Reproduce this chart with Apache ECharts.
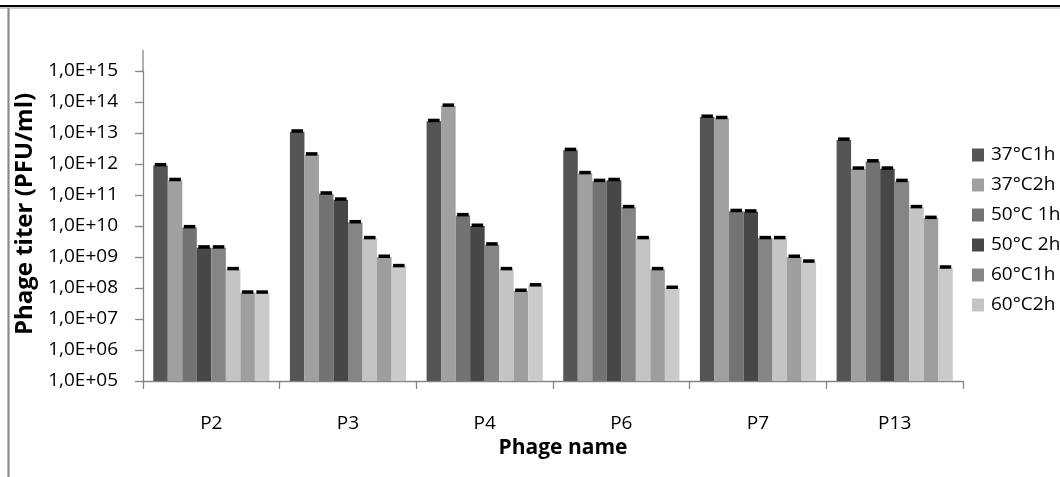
<!DOCTYPE html>
<html>
<head>
<meta charset="utf-8">
<script src="https://cdn.jsdelivr.net/npm/echarts@6/dist/echarts.min.js"></script>
<style>
html,body{margin:0;padding:0;background:#fff;}
#chart{width:1060px;height:477px;}
</style>
</head>
<body>
<div id="chart"></div>
<script>
const categories = ['P2', 'P3', 'P4', 'P6', 'P7', 'P13'];
const seriesNames = ['37°C1h', '37°C2h', '50°C 1h', '50°C 2h', '60°C1h', '60°C2h', '70°C1h', '70°C2h'];
const legendNames = ['37°C1h', '37°C2h', '50°C 1h', '50°C 2h', '60°C1h', '60°C2h'];
const s37c1h = [9e11, 1.1e13, 2.4e13, 2.8e12, 3.3e13, 6e12];
const s37c2h = [3e11, 2e12, 7.5e13, 5e11, 3e13, 7e11];
const s50c1h = [9e9, 1.1e11, 2.2e10, 2.8e11, 3e10, 1.2e12];
const s50c2h = [2e9, 7e10, 1e10, 3e11, 2.9e10, 7e11];
const s60c1h = [2e9, 1.3e10, 2.5e9, 4e10, 4e9, 2.8e11];
const s60c2h = [4e8, 4e9, 4e8, 4e9, 4e9, 4e10];
const s70c1h = [7e7, 1e9, 8e7, 4e8, 1e9, 1.8e10];
const s70c2h = [7e7, 5e8, 1.2e8, 1e8, 7e8, 4.5e8];
const yTickLabels = ['1,0E+05', '1,0E+06', '1,0E+07', '1,0E+08', '1,0E+09', '1,0E+10',
                     '1,0E+11', '1,0E+12', '1,0E+13', '1,0E+14', '1,0E+15'];

const allData = [s37c1h, s37c2h, s50c1h, s50c2h, s60c1h, s60c2h, s70c1h, s70c2h];
const colors = ['#555555', '#a0a0a0', '#737373', '#474747', '#858585', '#c4c4c4', '#9e9e9e', '#cacaca'];
const FONT = 'Open Sans';
const catGap = 0.15;
const nSeries = allData.length;

const chart = echarts.init(document.getElementById('chart'), null, {renderer: 'canvas'});

const series = [];
allData.forEach(function (d, i) {
  series.push({
    name: seriesNames[i],
    type: 'bar',
    data: d,
    barGap: '0%',
    barCategoryGap: (catGap * 100) + '%',
    itemStyle: {color: colors[i]},
    silent: true
  });
});
allData.forEach(function (d, i) {
  series.push({
    name: seriesNames[i] + ' err',
    type: 'custom',
    data: d.map(function (v, k) { return [k, v]; }),
    encode: {x: 0, y: 1},
    z: 5,
    silent: true,
    renderItem: function (params, api) {
      const k = api.value(0);
      const v = api.value(1);
      const p = api.coord([k, v]);
      const catW = Math.abs(api.coord([1, v])[0] - api.coord([0, v])[0]);
      const barW = catW * (1 - catGap) / nSeries;
      const cx = p[0] + (i - (nSeries - 1) / 2) * barW;
      const w = barW - 3;
      return {
        type: 'rect',
        shape: {x: cx - w / 2, y: p[1] - 2.5, width: w, height: 3.5},
        style: {fill: '#000000'}
      };
    }
  });
});

chart.setOption({
  animation: false,
  backgroundColor: '#ffffff',
  textStyle: {fontFamily: FONT},
  grid: {left: 143, right: 97, top: 71, bottom: 96, containLabel: false},
  legend: {
    data: legendNames,
    orient: 'vertical',
    left: 967,
    top: 140,
    icon: 'rect',
    itemWidth: 12,
    itemHeight: 13,
    itemGap: 10,
    textStyle: {fontFamily: FONT, fontSize: 19, color: '#000', lineHeight: 20, padding: [0, 0, 0, 2]}
  },
  xAxis: {
    type: 'category',
    data: categories,
    name: 'Phage name',
    nameLocation: 'middle',
    nameGap: 52,
    nameTextStyle: {fontFamily: FONT, fontSize: 21, fontWeight: 'bold', color: '#000', padding: [0, 0, 0, 20]},
    axisLine: {lineStyle: {color: '#868686', width: 1.3}},
    axisTick: {show: true, length: 8, lineStyle: {color: '#868686', width: 1.3}},
    axisLabel: {fontFamily: FONT, fontSize: 19, color: '#000', margin: 33},
    splitLine: {show: false}
  },
  yAxis: {
    type: 'log',
    logBase: 10,
    min: 1e5,
    max: 1e15,
    interval: 1,
    name: 'Phage titer (PFU/ml)',
    nameLocation: 'middle',
    nameRotate: 90,
    nameGap: 93,
    nameTextStyle: {fontFamily: FONT, fontSize: 24, fontWeight: 'bold', color: '#000', padding: [0, 0, 0, 24]},
    axisLine: {show: true, lineStyle: {color: '#868686', width: 1.3}},
    axisTick: {show: true, length: 8, lineStyle: {color: '#868686', width: 1.3}},
    axisLabel: {
      fontFamily: FONT, fontSize: 19, color: '#000', margin: 25,
      formatter: function (v) {
        const e = Math.round(Math.log10(v));
        return yTickLabels[e - 5] || '';
      }
    },
    splitLine: {show: false}
  },
  graphic: [
    {type: 'line', shape: {x1: 0, y1: 6, x2: 1060, y2: 6}, style: {stroke: '#000', lineWidth: 2}, z: 100},
    {type: 'line', shape: {x1: 0, y1: 8, x2: 1060, y2: 8}, style: {stroke: '#9a9a9a', lineWidth: 1.2}, z: 100},
    {type: 'line', shape: {x1: 8.5, y1: 8, x2: 8.5, y2: 477}, style: {stroke: '#8a8a8a', lineWidth: 2.2}, z: 100},
    {type: 'line', shape: {x1: 143, y1: 50, x2: 143, y2: 71}, style: {stroke: '#868686', lineWidth: 1.3}, z: 100}
  ],
  series: series
});
</script>
</body>
</html>
